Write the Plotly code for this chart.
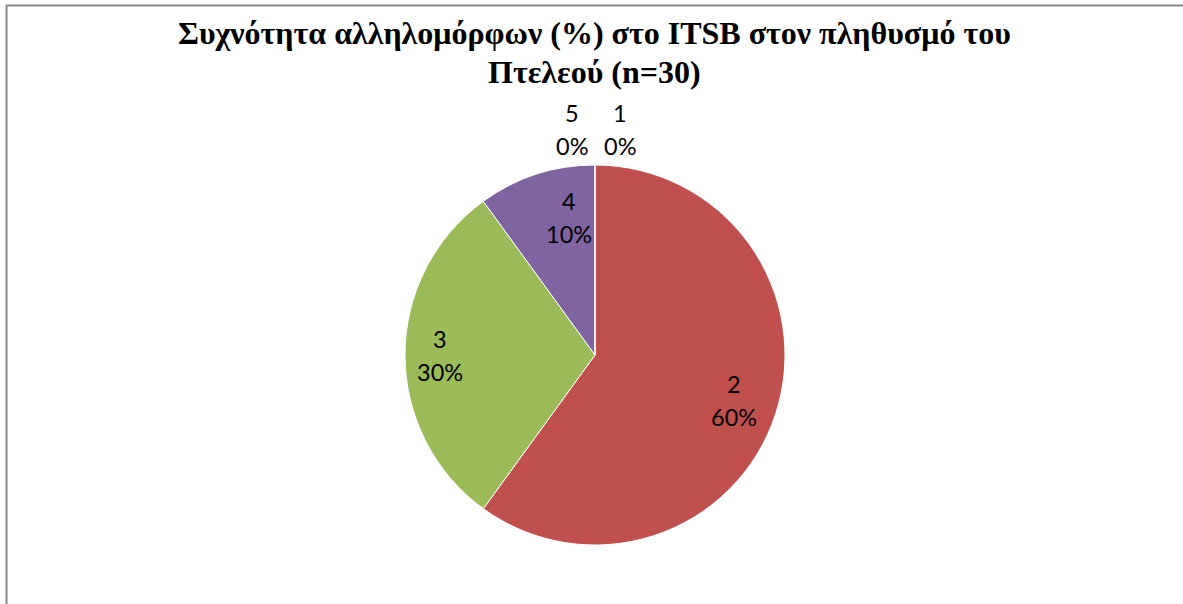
import math
import plotly.graph_objects as go

alleles = ["1", "2", "3", "4", "5"]
counts = [0, 60, 30, 10, 0]
colors = ["#4F81BD", "#C0504D", "#9BBB59", "#8064A2", "#4BACC6"]
title_lines = ["Συχνότητα αλληλομόρφων (%) στο ITSB στον πληθυσμό του", "Πτελεού (n=30)"]

W, H = 1183, 604
CX, CY, R = 595, 355, 190  # pie centre / radius in px

# label placement (Excel "best fit" look): radial factor + small x nudge per allele
label_radius = {"1": 1.185, "2": 0.77, "3": 0.815, "4": 0.76, "5": 1.185}
label_xshift = {"1": 25, "2": 0, "3": 0, "4": 19, "5": -23}

label_font = dict(family="Lato, Open Sans, sans-serif", size=23.5, color="black")

fig = go.Figure()
fig.add_trace(go.Pie(
    labels=alleles,
    values=counts,
    sort=False,
    direction="clockwise",
    rotation=0,
    marker=dict(colors=colors, line=dict(color="white", width=1)),
    textinfo="none",
    domain=dict(x=[(CX - R) / W, (CX + R) / W], y=[(H - CY - R) / H, (H - CY + R) / H]),
    showlegend=False,
    hoverinfo="label+percent",
))

# data labels: angle from the cumulative share of each slice
total = sum(counts)
cum = 0
for lab, v in zip(alleles, counts):
    frac = v / total
    mid = (cum + frac / 2) * 2 * math.pi
    if v == 0 and cum > 0:
        mid = 2 * math.pi
    cum += frac
    f = label_radius[lab]
    px = CX + R * f * math.sin(mid) + label_xshift[lab]
    py = CY - R * f * math.cos(mid)
    for txt, dy in [(lab, -16.5), (f"{frac:.0%}", 16.5)]:
        fig.add_annotation(
            x=px / W, y=1 - (py + dy) / H, xref="paper", yref="paper",
            text=txt, showarrow=False, xanchor="center", yanchor="middle",
            font=label_font,
        )

for i, line in enumerate(title_lines):
    fig.add_annotation(
        x=594 / W, y=1 - (33 + 39 * i) / H, xref="paper", yref="paper",
        text=f"<b>{line}</b>", showarrow=False, xanchor="center", yanchor="middle",
        font=dict(family="Liberation Serif, Times New Roman, serif", size=32, color="black"),
    )

fig.add_shape(
    type="rect", xref="paper", yref="paper",
    x0=6.5 / W, x1=1.02, y0=-0.02, y1=1 - 5.5 / H,
    line=dict(color="#888888", width=2),
    fillcolor="rgba(0,0,0,0)",
)

fig.update_layout(
    paper_bgcolor="white",
    plot_bgcolor="white",
    width=W,
    height=H,
    margin=dict(l=0, r=0, t=0, b=0),
)

fig.write_html(
    "out.html",
    config=dict(displayModeBar=False),
    post_script="document.body.style.margin='0';document.body.style.overflow='hidden';",
)
